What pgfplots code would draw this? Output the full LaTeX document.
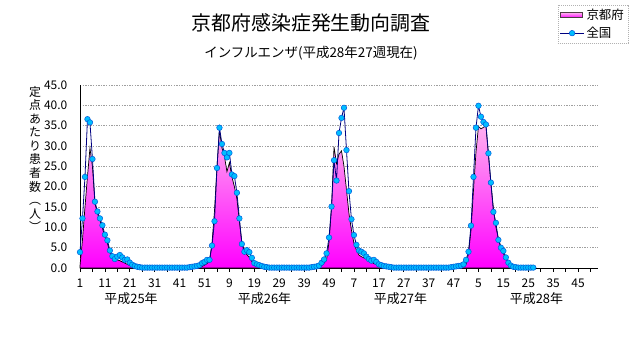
\documentclass[border=0pt]{standalone}
\usepackage{fontspec}
\setmainfont{Noto Sans CJK JP}
\usepackage{pgfplots}
\usepackage{pgfplotstable}
\pgfplotsset{compat=1.18}
\definecolor{navyline}{RGB}{0,0,128}
\definecolor{mkfill}{RGB}{0,190,255}
\definecolor{mkdraw}{RGB}{0,90,220}
\definecolor{pinktop}{RGB}{255,175,240}
\definecolor{pinkbot}{RGB}{255,0,255}
\definecolor{legpink}{RGB}{255,110,225}

\pgfplotstableread[row sep=\\]{
i nat kyo\\
0 3.9 0.5\\ 1 12.2 7.0\\ 2 22.4 15.0\\ 3 36.6 22.5\\ 4 35.8 29.5\\
5 26.8 24.9\\ 6 16.3 15.9\\ 7 13.9 13.4\\ 8 12.2 11.8\\ 9 10.5 9.8\\
10 8.2 7.7\\ 11 6.8 6.1\\ 12 4.3 4.0\\ 13 2.9 2.8\\ 14 2.2 2.3\\
15 2.8 2.0\\ 16 3.2 1.8\\ 17 2.6 1.5\\ 18 2.0 1.2\\ 19 2.1 0.9\\
20 1.3 0.6\\ 21 0.8 0.4\\ 22 0.5 0.2\\ 23 0.3 0.1\\ 24 0.2 0.0\\
25 0.1 0.0\\ 26 0.1 0.0\\ 27 0.1 0.0\\ 28 0.1 0.0\\ 29 0.1 0.0\\
30 0.1 0.0\\ 31 0.1 0.0\\ 32 0.1 0.0\\ 33 0.1 0.0\\ 34 0.1 0.0\\
35 0.1 0.0\\ 36 0.1 0.0\\ 37 0.1 0.0\\ 38 0.1 0.0\\ 39 0.1 0.0\\
40 0.1 0.0\\ 41 0.1 0.0\\ 42 0.1 0.0\\ 43 0.1 0.0\\ 44 0.2 0.0\\
45 0.3 0.0\\ 46 0.4 0.0\\ 47 0.5 0.1\\ 48 0.7 0.2\\ 49 1.2 0.4\\
50 1.5 0.7\\ 51 2.0 1.1\\ 52 2.0 1.8\\ 53 5.5 6.0\\ 54 11.5 14.0\\
55 24.6 24.8\\ 56 34.5 33.9\\ 57 30.5 29.5\\ 58 28.3 27.5\\ 59 27.2 23.7\\
60 28.3 25.9\\ 61 23.0 22.4\\ 62 22.6 20.0\\ 63 18.5 17.0\\ 64 12.2 11.5\\
65 5.9 6.3\\ 66 4.0 4.3\\ 67 4.4 3.3\\ 68 3.9 2.6\\ 69 2.5 1.6\\
70 1.2 1.0\\ 71 0.9 0.6\\ 72 0.7 0.3\\ 73 0.5 0.2\\ 74 0.3 0.1\\
75 0.2 0.0\\ 76 0.1 0.0\\ 77 0.1 0.0\\ 78 0.1 0.0\\ 79 0.1 0.0\\
80 0.1 0.0\\ 81 0.1 0.0\\ 82 0.1 0.0\\ 83 0.1 0.0\\ 84 0.1 0.0\\
85 0.1 0.0\\ 86 0.1 0.0\\ 87 0.1 0.0\\ 88 0.1 0.0\\ 89 0.1 0.0\\
90 0.1 0.0\\ 91 0.1 0.0\\ 92 0.1 0.0\\ 93 0.2 0.0\\ 94 0.3 0.0\\
95 0.4 0.1\\ 96 0.6 0.3\\ 97 1.3 0.6\\ 98 2.1 1.2\\ 99 3.6 2.0\\
100 7.5 6.5\\ 101 15.1 15.0\\ 102 26.5 29.8\\ 103 21.5 25.7\\ 104 33.2 28.0\\
105 36.9 28.8\\ 106 39.4 25.0\\ 107 29.0 19.2\\ 108 18.9 13.4\\ 109 12.0 9.3\\
110 8.1 6.1\\ 111 5.7 4.4\\ 112 4.3 3.2\\ 113 4.0 2.8\\ 114 3.6 2.5\\
115 2.8 2.2\\ 116 2.2 2.0\\ 117 1.8 1.5\\ 118 2.0 1.1\\ 119 1.5 0.9\\
120 0.9 0.7\\ 121 0.7 0.5\\ 122 0.5 0.3\\ 123 0.4 0.2\\ 124 0.3 0.1\\
125 0.2 0.0\\ 126 0.1 0.0\\ 127 0.1 0.0\\ 128 0.1 0.0\\ 129 0.1 0.0\\
130 0.1 0.0\\ 131 0.1 0.0\\ 132 0.1 0.0\\ 133 0.1 0.0\\ 134 0.1 0.0\\
135 0.1 0.0\\ 136 0.1 0.0\\ 137 0.1 0.0\\ 138 0.1 0.0\\ 139 0.1 0.0\\
140 0.1 0.0\\ 141 0.1 0.0\\ 142 0.1 0.0\\ 143 0.1 0.0\\ 144 0.1 0.0\\
145 0.1 0.0\\ 146 0.1 0.0\\ 147 0.1 0.0\\ 148 0.1 0.0\\ 149 0.2 0.0\\
150 0.3 0.0\\ 151 0.4 0.0\\ 152 0.5 0.1\\ 153 0.6 0.2\\ 154 0.9 0.4\\
155 2.0 0.8\\ 156 4.0 3.6\\ 157 10.4 9.3\\ 158 22.4 19.2\\ 159 34.5 28.5\\
160 39.9 34.8\\ 161 37.2 34.2\\ 162 35.9 34.6\\ 163 35.3 34.9\\ 164 28.2 27.8\\
165 21.0 20.8\\ 166 13.8 14.7\\ 167 11.1 10.1\\ 168 6.9 7.3\\ 169 5.0 5.2\\
170 4.2 3.6\\ 171 2.6 2.4\\ 172 1.3 1.2\\ 173 0.6 0.6\\ 174 0.3 0.3\\
175 0.2 0.2\\ 176 0.1 0.1\\ 177 0.1 0.1\\ 178 0.1 0.1\\ 179 0.1 0.1\\
180 0.1 0.1\\ 181 0.1 0.1\\ 182 0.1 0.1\\
}\flu

\begin{document}
\begin{tikzpicture}[x=1bp,y=1bp]
\path[use as bounding box] (-80,-79) rectangle (551,268);
\begin{axis}[
  at={(0,0)}, anchor=south west, scale only axis,
  width=518bp, height=183bp,
  xmin=0, xmax=208, ymin=0, ymax=45,
  axis x line*=bottom, axis y line*=left,
  axis line style={-, black, line width=0.8bp},
  xtick={0,10,...,200},
  xticklabels={1,11,21,31,41,51,9,19,29,39,49,7,17,27,37,47,5,15,25,35,45},
  minor xtick={5,15,...,205},
  tick align=outside,
  major tick length=3.5bp, minor tick length=3.5bp,
  x tick style={black, line width=0.7bp},
  ytick={0,5,...,45},
  y tick style={draw=none},
  ymajorgrids,
  grid style={gray!75, dash pattern=on 1.3bp off 1.3bp, line width=0.6bp},
  yticklabel={\pgfmathprintnumber[fixed,fixed zerofill,precision=1,assume math mode=true]{\tick}},
  tick label style={font=\fontsize{12}{12}\selectfont},
  yticklabel style={anchor=east, inner sep=0pt, xshift=-9bp},
  xticklabel style={anchor=north, inner sep=0pt, yshift=-7bp},
  clip=false,
  legend style={at={(rel axis cs:1.058,1.437)}, anchor=north east,
    draw=gray!60, dash pattern=on 1bp off 1bp,
    font=\fontsize{12.5}{13}\selectfont, row sep=2bp, inner sep=2bp,
    cells={anchor=west}},
  legend cell align=left,
]
\addplot[draw=black, line width=0.7bp, top color=pinktop, bottom color=pinkbot,
  legend image code/.code={\draw[solid, fill=legpink, draw=black!80!magenta, line width=0.6bp] (0bp,-2.5bp) rectangle (22bp,2.5bp);}]
  table[x=i, y=kyo]{\flu} \closedcycle;
\addlegendentry{京都府}
\addplot[navyline, line width=0.8bp, mark=*, mark size=2.8bp,
  mark options={solid, fill=mkfill, draw=mkdraw, line width=0.5bp},
  legend image code/.code={\draw[solid, navyline, line width=0.8bp] (0bp,0bp) -- (24bp,0bp); \draw[solid, fill=mkfill, draw=mkdraw, line width=0.5bp] (12bp,0bp) circle (2.8bp);}]
  table[x=i, y=nat]{\flu};
\addlegendentry{全国}
\node[font=\fontsize{13}{13}\selectfont] at (axis cs:20.5,0) [yshift=-31bp] {平成25年};
\node[font=\fontsize{13}{13}\selectfont] at (axis cs:74.1,0) [yshift=-31bp] {平成26年};
\node[font=\fontsize{13}{13}\selectfont] at (axis cs:128.7,0) [yshift=-31bp] {平成27年};
\node[font=\fontsize{13}{13}\selectfont] at (axis cs:183.3,0) [yshift=-31bp] {平成28年};
\end{axis}
\node[font=\fontsize{20}{20}\selectfont] at (231,245) {京都府感染症発生動向調査};
\node[font=\fontsize{13.5}{14}\selectfont] at (231,215) {インフルエンザ(平成28年27週現在)};
\node[anchor=north, align=center, inner sep=0pt, font=\fontsize{12}{13.6}\selectfont] at (-45,182)
  {定\\点\\あ\\た\\り\\患\\者\\数\\︵\\人\\︶};
\end{tikzpicture}
\end{document}
